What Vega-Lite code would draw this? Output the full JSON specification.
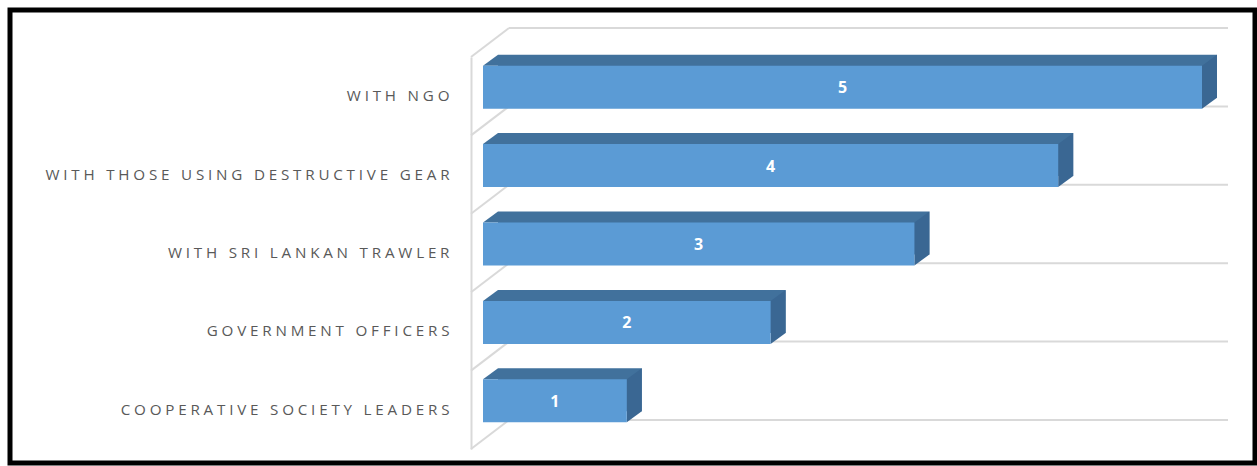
{
  "$schema": "https://vega.github.io/schema/vega-lite/v6.json",
  "autosize": "none",
  "padding": {"left": 10, "top": 10, "right": 2, "bottom": 3},
  "width": 1245,
  "height": 453,
  "background": "#ffffff",
  "config": {
    "view": {"stroke": "#000000", "strokeWidth": 5},
    "font": "Open Sans"
  },
  "data": {
    "values": [
      {"category": "WITH NGO", "value": 5},
      {"category": "WITH THOSE USING DESTRUCTIVE GEAR", "value": 4},
      {"category": "WITH SRI LANKAN TRAWLER ", "value": 3},
      {"category": "GOVERNMENT OFFICERS", "value": 2},
      {"category": "COOPERATIVE SOCIETY LEADERS ", "value": 1}
    ]
  },
  "layer": [
    {
      "description": "back-wall gridlines at the top of each category band",
      "mark": {"type": "rule", "color": "#D9D9D9", "strokeWidth": 2, "xOffset": 38, "x2Offset": 38, "yOffset": -29},
      "encoding": {
        "x": {"datum": 0, "type": "quantitative", "scale": {"domain": [0, 5], "range": [461, 1180], "nice": false, "zero": true}, "axis": null},
        "x2": {"datum": 5},
        "y": {"field": "category", "type": "nominal", "sort": null, "bandPosition": 0,
              "scale": {"range": [47, 439], "paddingInner": 0, "paddingOuter": 0},
              "axis": {
                "title": null, "offset": -461, "ticks": false, "domainColor": "#D9D9D9", "domainWidth": 2,
                "labelPadding": 22, "labelFontSize": 15.2, "labelColor": "#595959", "labelLimit": 0,
                "labelFont": "Open Sans",
                "labelExpr": "join(split(trim(datum.value), ''), '\u2005') + (length(datum.value) > length(trim(datum.value)) ? '\u2005\u00a0\u2005\u00a0' : '')"
              }}
      }
    },
    {
      "description": "closing gridline under the last band",
      "transform": [{"filter": "datum.value === 1"}],
      "mark": {"type": "rule", "color": "#D9D9D9", "strokeWidth": 2, "xOffset": 38, "x2Offset": 38, "yOffset": -29},
      "encoding": {
        "x": {"datum": 0, "type": "quantitative"},
        "x2": {"datum": 5},
        "y": {"field": "category", "type": "nominal", "sort": null, "bandPosition": 1}
      }
    },
    {
      "description": "side-wall diagonals joining the front edge to the back gridlines",
      "mark": {"type": "point", "shape": "M0,0L38,-29", "filled": false, "stroke": "#D9D9D9", "strokeWidth": 2, "size": 4, "opacity": 1},
      "encoding": {
        "x": {"datum": 0, "type": "quantitative"},
        "y": {"field": "category", "type": "nominal", "sort": null, "bandPosition": 0}
      }
    },
    {
      "transform": [{"filter": "datum.value === 1"}],
      "mark": {"type": "point", "shape": "M0,0L38,-29", "filled": false, "stroke": "#D9D9D9", "strokeWidth": 2, "size": 4, "opacity": 1},
      "encoding": {
        "x": {"datum": 0, "type": "quantitative"},
        "y": {"field": "category", "type": "nominal", "sort": null, "bandPosition": 1}
      }
    },
    {
      "description": "back face of each 3D bar (shows as the top face)",
      "mark": {"type": "bar", "orient": "horizontal", "color": "#41719C", "height": 43, "xOffset": 27, "x2Offset": 27, "yOffset": -20},
      "encoding": {
        "x": {"field": "value", "type": "quantitative"},
        "y": {"field": "category", "type": "nominal", "sort": null}
      }
    },
    {
      "description": "right-hand end face of each bar",
      "mark": {"type": "point", "shape": "M12,-30.5L27,-41.5L27,1.5L12,12.5Z", "filled": true, "fill": "#3A6793", "strokeWidth": 0, "size": 4, "opacity": 1},
      "encoding": {
        "x": {"field": "value", "type": "quantitative"},
        "y": {"field": "category", "type": "nominal", "sort": null}
      }
    },
    {
      "description": "left corner of the top face",
      "mark": {"type": "point", "shape": "M12,-30.5L27,-41.5L27,-30.5Z", "filled": true, "fill": "#41719C", "strokeWidth": 0, "size": 4, "opacity": 1},
      "encoding": {
        "x": {"datum": 0, "type": "quantitative"},
        "y": {"field": "category", "type": "nominal", "sort": null}
      }
    },
    {
      "description": "front face of each bar",
      "mark": {"type": "bar", "orient": "horizontal", "color": "#5B9BD5", "height": 43, "xOffset": 12, "x2Offset": 12, "yOffset": -9},
      "encoding": {
        "x": {"field": "value", "type": "quantitative"},
        "y": {"field": "category", "type": "nominal", "sort": null}
      }
    },
    {
      "description": "value labels centred on the front face",
      "mark": {"type": "text", "color": "#ffffff", "fontWeight": "bold", "fontSize": 16, "font": "Open Sans", "baseline": "middle", "align": "center", "xOffset": 12, "yOffset": -8},
      "encoding": {
        "x": {"field": "value", "type": "quantitative", "stack": "zero", "bandPosition": 0.5},
        "y": {"field": "category", "type": "nominal", "sort": null},
        "text": {"field": "value", "type": "quantitative"}
      }
    }
  ]
}
